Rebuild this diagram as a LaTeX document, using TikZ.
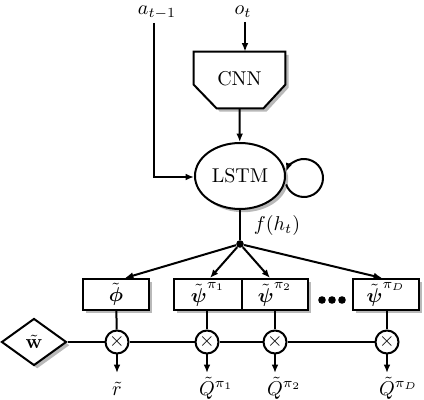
\documentclass[tikz,border=0pt]{standalone}
\usepackage{amsmath,amssymb}
\usetikzlibrary{shapes.geometric,shadows,arrows.meta,calc}
\begin{document}
\begin{tikzpicture}[x=0.5pt,y=-0.5pt,
  every node/.style={font=\normalsize},
  line/.style={line width=1pt},
  arr/.style={line width=1pt,-{Latex[length=4.2pt,width=3.4pt]}},
  shad/.style={drop shadow={shadow xshift=1.6pt,shadow yshift=-1.6pt,fill=gray!55,opacity=1}},
  box/.style={draw,line width=1pt,fill=white,shad,minimum height=15.5pt,inner sep=0pt},
  mult/.style={draw,circle,line width=1pt,fill=white,minimum size=11.5pt,inner sep=0pt},
  lab/.style={inner sep=0.5pt,text height=2.4ex,text depth=0.3ex,anchor=north}]
\useasboundingbox (0,0) rectangle (424,400);

% inputs
\node (a) at (157,13) {$a_{t-1}$};
\node (o) at (243,12) {$o_t$};
\coordinate (astart) at (154,23);
\coordinate (acorner) at (154,177);
\coordinate (ostart) at (245,22);

% CNN
\node[minimum width=45.5pt,minimum height=28pt,inner sep=0pt] (cnn) at (239.5,80) {};
\draw[line,fill=white,shad] (cnn.north west) -- (cnn.north east)
  -- ($(cnn.north east)+(0,33)$) -- ($(cnn.south east)+(-22,0)$)
  -- ($(cnn.south west)+(23,0)$) -- ($(cnn.north west)+(0,33)$) -- cycle;
\node at (239.5,79) {CNN};

% LSTM
\node[draw,ellipse,line width=1pt,fill=white,shad,minimum width=45pt,minimum height=33pt,inner sep=0pt] (lstm) at (240,176) {LSTM};
\coordinate (loopc) at (304,178);
\draw[arr] ($(loopc)+(200:9.5pt)$) arc[start angle=200,end angle=520,radius=9.5pt];

\draw[arr] (astart) -- (acorner) -- (acorner -| lstm.west);
\draw[arr] (ostart) -- (ostart |- cnn.north);
\draw[arr] (cnn.south) -- (lstm);

% split point
\node[circle,fill,inner sep=0pt,minimum size=3.8pt] (dot) at (240,244) {};
\draw[line] (lstm) -- (dot);
\node (f) at (277,226) {$f(h_t)$};

% heads
\node[box,minimum width=33pt] (phi) at (116,294.5) {$\tilde{\boldsymbol{\phi}}$};
\node[box,minimum width=34pt] (psi1) at (208,294.5) {$\tilde{\boldsymbol{\psi}}^{\pi_1}$};
\node[box,minimum width=33pt] (psi2) at (275,294.5) {$\tilde{\boldsymbol{\psi}}^{\pi_2}$};
\node[box,minimum width=33pt] (psiD) at (386,294.5) {$\tilde{\boldsymbol{\psi}}^{\pi_D}$};
\foreach \xx in {322,332,342} \fill (\xx,300) circle (3.8);

\draw[arr] (dot) -- ([xshift=4.5pt]phi.north);
\draw[arr] (dot) -- ([xshift=1pt]psi1.north);
\draw[arr] (dot) -- ([xshift=-2.5pt]psi2.north);
\draw[arr] (dot) -- ([xshift=-2pt]psiD.north);

% weights and products
\node[draw,diamond,line width=1pt,fill=white,shad,minimum width=32.5pt,minimum height=23.5pt,inner sep=0pt] (w) at (34,342) {$\tilde{\mathbf{w}}$};
\node[mult] (m0) at (117,342) {$\times$};
\node[mult] (m1) at (207,342) {$\times$};
\node[mult] (m2) at (275,342) {$\times$};
\node[mult] (mD) at (387,342) {$\times$};
\draw[line] (w) -- (m0);
\draw[line] (m0) -- (m1);
\draw[line] (m1) -- (m2);
\draw[line] (m2) -- (mD);
\draw[line] (phi) -- (m0);
\draw[line] (psi1.south -| m1) -- (m1);
\draw[line] (psi2.south -| m2) -- (m2);
\draw[line] (psiD.south -| mD) -- (mD);

% outputs
\node[lab] (r) at (117,373) {$\tilde{r}$};
\node[lab] (q1) at (207,373) {$\tilde{Q}\rlap{$^{\pi_1}$}$};
\node[lab] (q2) at (275,373) {$\tilde{Q}\rlap{$^{\pi_2}$}$};
\node[lab] (qD) at (387,373) {$\tilde{Q}\rlap{$^{\pi_D}$}$};
\draw[arr] (m0) -- (r);
\draw[arr] (m1) -- (q1);
\draw[arr] (m2) -- (q2);
\draw[arr] (mD) -- (qD);
\end{tikzpicture}
\end{document}
